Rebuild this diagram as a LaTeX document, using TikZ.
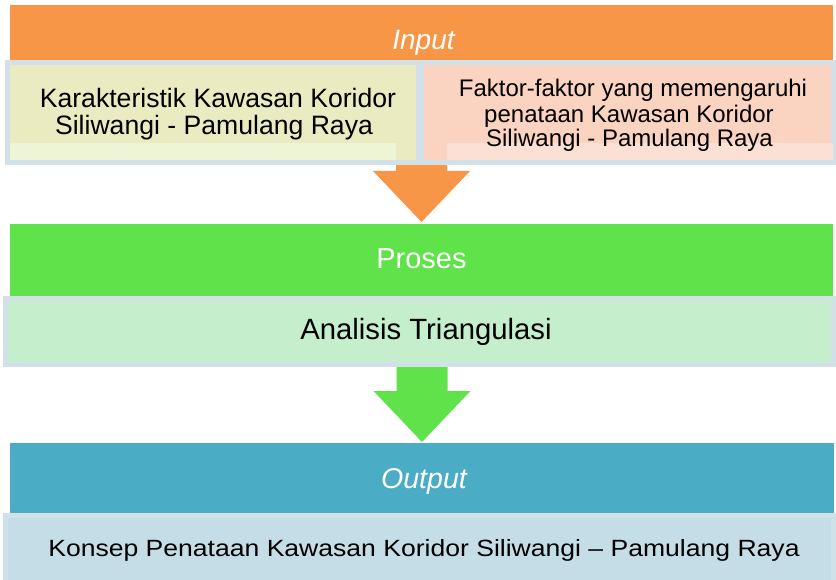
\documentclass[tikz,border=0pt]{standalone}
\usepackage{fontspec}
\setmainfont{Liberation Sans}
\usetikzlibrary{calc}

\definecolor{inOrange}{HTML}{F79646}
\definecolor{prGreen}{HTML}{60E24A}
\definecolor{outBlue}{HTML}{4BACC6}
\definecolor{frameGray}{HTML}{D2E1E8}
\definecolor{fillYellow}{HTML}{EBEBC1}
\definecolor{fillPeach}{HTML}{FAD3C1}
\definecolor{fillMint}{HTML}{C5EFCC}
\definecolor{fillSky}{HTML}{C5DDE6}
\definecolor{frameSky}{HTML}{CFE2EA}
\definecolor{stripYellow}{HTML}{EDF5D6}
\definecolor{stripPeach}{HTML}{FBE0D5}

% block arrow pointing down: #1 tip coordinate, #2 colour, #3 shaft length above the head
\newcommand\downblock[3]{%
  \fill[#2] ($(#1)+(-25.5,-51-#3)$) -- ($(#1)+(-25.5,-51)$) -- ($(#1)+(-48.5,-51)$)
    -- (#1) -- ($(#1)+(48.5,-51)$) -- ($(#1)+(25.5,-51)$) -- ($(#1)+(25.5,-51-#3)$) -- cycle;}

\begin{document}
\begin{tikzpicture}[x=1pt,y=-1pt,
  bar/.style={fill=#1, draw=none, inner sep=0, outer sep=0, anchor=north west},
  panel/.style={fill=#1, draw=frameGray, line width=5pt, inner sep=0, outer sep=0, anchor=north west},
  label/.style={inner sep=0, outer sep=0, anchor=base, text=black},
  head/.style={label, text=white}]
\fill[white] (0,0) rectangle (836,580);
\useasboundingbox (0,0) rectangle (836,580);

% header bars
\node[bar=inOrange, minimum width=823pt, minimum height=57pt] (inbar) at (10,5) {};
\node[bar=prGreen, minimum width=823pt, minimum height=73pt] (probar) at (10,224) {};
\node[bar=outBlue, minimum width=824pt, minimum height=70pt] (outbar) at (10,443) {};

% arrows between the stages
\coordinate (tipA) at ($(probar.north)+(0,-2)$);
\coordinate (tipB) at ($(outbar.north)+(0,-1)$);
\downblock{tipA}{inOrange}{21}
\downblock{tipB}{prGreen}{40}

% content panels
\node[panel=fillYellow, minimum width=411pt, minimum height=100pt] (karak) at (7.5,62.5) {};
\node[panel=fillPeach, minimum width=412pt, minimum height=100pt] (faktor) at (421.5,62.5) {};
\fill[stripYellow] (10,143) rectangle (396,160);
\fill[stripPeach] (447,143) rectangle (833,160);
\node[panel=fillMint, minimum width=828pt, minimum height=65.5pt] (analisis) at (5.5,299) {};
\node[panel=fillSky, draw=frameSky, minimum width=828pt, minimum height=80pt] (konsep) at (5.5,515.5) {};

% texts
\node[head, font=\fontsize{28}{30}\selectfont\itshape] (tinput) at (423.5,50) {Input};
\node[label, font=\fontsize{26.6}{30}\selectfont] (tk1) at (218,108) {Karakteristik Kawasan Koridor};
\node[label, font=\fontsize{26.6}{30}\selectfont] (tk2) at (214,135) {Siliwangi - Pamulang Raya};
\node[label, font=\fontsize{24}{27}\selectfont] (tf1) at (633,97) {Faktor-faktor yang memengaruhi};
\node[label, font=\fontsize{24}{27}\selectfont] (tf2) at (629,123) {penataan Kawasan Koridor};
\node[label, font=\fontsize{24}{27}\selectfont] (tf3) at (629.5,147) {Siliwangi - Pamulang Raya};
\node[head, font=\fontsize{29}{32}\selectfont] (tproses) at (421.5,269) {Proses};
\node[label, font=\fontsize{29.3}{32}\selectfont] (tanalisis) at (426,340) {Analisis Triangulasi};
\node[head, font=\fontsize{28.6}{31}\selectfont\itshape] (toutput) at (424,488) {Output};
\node[label, font=\fontsize{23.5}{27}\selectfont] (tkonsep) at (424,556)
  {\scalebox{1.13}[1]{Konsep Penataan Kawasan Koridor Siliwangi – Pamulang Raya}};
\end{tikzpicture}
\end{document}
